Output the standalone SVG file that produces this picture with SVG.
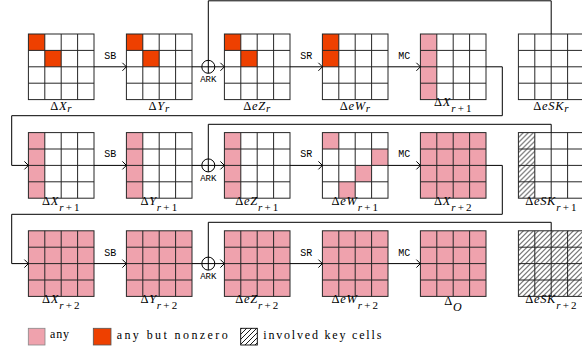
<svg xmlns="http://www.w3.org/2000/svg" xmlns:xlink="http://www.w3.org/1999/xlink" width="582" height="352" viewBox="0 0 582 352">
<style>
.gl{fill:none;stroke:#262626;stroke-width:1}
.p{fill:#EFA2AD}
.o{fill:#EE4000}
.h{fill:url(#hatch)}
.lb{font-family:"Liberation Serif","DejaVu Serif",serif;font-size:12.5px;text-anchor:middle;fill:#000;letter-spacing:0.7px}
.i{font-style:italic}
.s{font-size:11px}
.op{font-family:"Liberation Mono","DejaVu Sans Mono",monospace;font-size:10px;text-anchor:middle;fill:#000}
.ark{font-size:9px}
.cn{fill:none;stroke:#000;stroke-width:1}
.lg{font-family:"Liberation Serif","DejaVu Serif",serif;font-size:12px;fill:#000}
</style>
<defs>
<pattern id="hatch" patternUnits="userSpaceOnUse" width="5" height="5">
<path d="M-1 1L1 -1M0 5L5 0M4 6L6 4" stroke="#000" stroke-width="0.9"/>
</pattern>
<g id="gl" class="gl">
<rect x="0" y="0" width="65.6" height="65.6"/>
<path d="M16.4 0V65.6M32.8 0V65.6M49.2 0V65.6M0 16.4H65.6M0 32.8H65.6M0 49.2H65.6"/>
</g>
<g id="allp"><rect class="p" x="0" y="0" width="65.6" height="65.6"/></g>
<marker id="ch" markerUnits="userSpaceOnUse" markerWidth="10" markerHeight="10" refX="5" refY="5" orient="auto" viewBox="0 0 10 10">
<path d="M1 1L5 5L1 9" fill="none" stroke="#000" stroke-width="1"/>
</marker>
</defs>
<rect width="582" height="352" fill="#fff"/>

<!-- Row 1 -->
<g id="dXr" transform="translate(28.4,34)">
<rect class="o" x="0" y="0" width="16.4" height="16.4"/><rect class="o" x="16.4" y="16.4" width="16.4" height="16.4"/>
<use xlink:href="#gl"/>
<text class="lb" x="32.8" y="75.5">Δ<tspan class="i">X</tspan><tspan class="s i" dy="2.5">r</tspan></text>
</g>
<g id="dYr" transform="translate(126.4,34)">
<rect class="o" x="0" y="0" width="16.4" height="16.4"/><rect class="o" x="16.4" y="16.4" width="16.4" height="16.4"/>
<use xlink:href="#gl"/>
<text class="lb" x="32.8" y="75.5">Δ<tspan class="i">Y</tspan><tspan class="s i" dy="2.5">r</tspan></text>
</g>
<g id="deZr" transform="translate(224.4,34)">
<rect class="o" x="0" y="0" width="16.4" height="16.4"/><rect class="o" x="16.4" y="16.4" width="16.4" height="16.4"/>
<use xlink:href="#gl"/>
<text class="lb" x="32.8" y="75.5">Δ<tspan class="i">eZ</tspan><tspan class="s i" dy="2.5">r</tspan></text>
</g>
<g id="deWr" transform="translate(322.4,34)">
<rect class="o" x="0" y="0" width="16.4" height="32.8"/>
<use xlink:href="#gl"/>
<text class="lb" x="32.8" y="75.5">Δ<tspan class="i">eW</tspan><tspan class="s i" dy="2.5">r</tspan></text>
</g>
<g id="dXr1" transform="translate(420.4,34)">
<rect class="p" x="0" y="0" width="16.4" height="65.6"/>
<use xlink:href="#gl"/>
<text class="lb" x="32.8" y="72">Δ<tspan class="i">X</tspan><tspan class="s" dy="6"><tspan class="i">r</tspan><tspan dx="1.5">+</tspan><tspan dx="1.5">1</tspan></tspan></text>
</g>
<g id="deSKr" transform="translate(518.4,34)">
<use xlink:href="#gl"/>
<text class="lb" x="32.8" y="75.5">Δ<tspan class="i">eSK</tspan><tspan class="s i" dy="2.5">r</tspan></text>
</g>

<!-- Row 2 -->
<g id="dXr1b" transform="translate(28.4,132.6)">
<rect class="p" x="0" y="0" width="16.4" height="65.6"/>
<use xlink:href="#gl"/>
<text class="lb" x="32.8" y="72">Δ<tspan class="i">X</tspan><tspan class="s" dy="6"><tspan class="i">r</tspan><tspan dx="1.5">+</tspan><tspan dx="1.5">1</tspan></tspan></text>
</g>
<g id="dYr1" transform="translate(126.4,132.6)">
<rect class="p" x="0" y="0" width="16.4" height="65.6"/>
<use xlink:href="#gl"/>
<text class="lb" x="32.8" y="72">Δ<tspan class="i">Y</tspan><tspan class="s" dy="6"><tspan class="i">r</tspan><tspan dx="1.5">+</tspan><tspan dx="1.5">1</tspan></tspan></text>
</g>
<g id="deZr1" transform="translate(224.4,132.6)">
<rect class="p" x="0" y="0" width="16.4" height="65.6"/>
<use xlink:href="#gl"/>
<text class="lb" x="32.8" y="72">Δ<tspan class="i">eZ</tspan><tspan class="s" dy="6"><tspan class="i">r</tspan><tspan dx="1.5">+</tspan><tspan dx="1.5">1</tspan></tspan></text>
</g>
<g id="deWr1" transform="translate(322.4,132.6)">
<rect class="p" x="0" y="0" width="16.4" height="16.4"/>
<rect class="p" x="49.2" y="16.4" width="16.4" height="16.4"/>
<rect class="p" x="32.8" y="32.8" width="16.4" height="16.4"/>
<rect class="p" x="16.4" y="49.2" width="16.4" height="16.4"/>
<use xlink:href="#gl"/>
<text class="lb" x="32.8" y="72">Δ<tspan class="i">eW</tspan><tspan class="s" dy="6"><tspan class="i">r</tspan><tspan dx="1.5">+</tspan><tspan dx="1.5">1</tspan></tspan></text>
</g>
<g id="dXr2" transform="translate(420.4,132.6)">
<use xlink:href="#allp"/>
<use xlink:href="#gl"/>
<text class="lb" x="32.8" y="72">Δ<tspan class="i">X</tspan><tspan class="s" dy="6"><tspan class="i">r</tspan><tspan dx="1.5">+</tspan><tspan dx="1.5">2</tspan></tspan></text>
</g>
<g id="deSKr1" transform="translate(518.4,132.6)">
<rect class="h" x="0" y="0" width="16.4" height="65.6"/>
<use xlink:href="#gl"/>
<text class="lb" x="32.8" y="72">Δ<tspan class="i">eSK</tspan><tspan class="s" dy="6"><tspan class="i">r</tspan><tspan dx="1.5">+</tspan><tspan dx="1.5">1</tspan></tspan></text>
</g>

<!-- Row 3 -->
<g id="dXr2b" transform="translate(28.4,230.8)">
<use xlink:href="#allp"/>
<use xlink:href="#gl"/>
<text class="lb" x="32.8" y="72">Δ<tspan class="i">X</tspan><tspan class="s" dy="6"><tspan class="i">r</tspan><tspan dx="1.5">+</tspan><tspan dx="1.5">2</tspan></tspan></text>
</g>
<g id="dYr2" transform="translate(126.4,230.8)">
<use xlink:href="#allp"/>
<use xlink:href="#gl"/>
<text class="lb" x="32.8" y="72">Δ<tspan class="i">Y</tspan><tspan class="s" dy="6"><tspan class="i">r</tspan><tspan dx="1.5">+</tspan><tspan dx="1.5">2</tspan></tspan></text>
</g>
<g id="deZr2" transform="translate(224.4,230.8)">
<use xlink:href="#allp"/>
<use xlink:href="#gl"/>
<text class="lb" x="32.8" y="72">Δ<tspan class="i">eZ</tspan><tspan class="s" dy="6"><tspan class="i">r</tspan><tspan dx="1.5">+</tspan><tspan dx="1.5">2</tspan></tspan></text>
</g>
<g id="deWr2" transform="translate(322.4,230.8)">
<use xlink:href="#allp"/>
<use xlink:href="#gl"/>
<text class="lb" x="32.8" y="72">Δ<tspan class="i">eW</tspan><tspan class="s" dy="6"><tspan class="i">r</tspan><tspan dx="1.5">+</tspan><tspan dx="1.5">2</tspan></tspan></text>
</g>
<g id="dO" transform="translate(420.4,230.8)">
<use xlink:href="#allp"/>
<use xlink:href="#gl"/>
<text class="lb" x="32.8" y="74">Δ<tspan class="i" dy="6" font-size="12px">O</tspan></text>
</g>
<g id="deSKr2" transform="translate(518.4,230.8)">
<rect class="h" x="0" y="0" width="65.6" height="65.6"/>
<use xlink:href="#gl"/>
<text class="lb" x="32.8" y="72">Δ<tspan class="i">eSK</tspan><tspan class="s" dy="6"><tspan class="i">r</tspan><tspan dx="1.5">+</tspan><tspan dx="1.5">2</tspan></tspan></text>
</g>

<!-- Connectors -->
<g id="connectors" class="cn">
<path d="M94 66.8H126.4" marker-end="url(#ch)"/>
<path d="M192 66.8H224.4" marker-end="url(#ch)"/>
<path d="M290 66.8H322.4" marker-end="url(#ch)"/>
<path d="M388 66.8H420.4" marker-end="url(#ch)"/>
<path d="M551.2 34V0.8H208.3V73.3"/>
<circle cx="208.3" cy="66.8" r="6.5"/>
<path d="M486 66.8H502.3V115.7H11.7V165.4H28.4" marker-end="url(#ch)"/>

<path d="M94 165.4H126.4" marker-end="url(#ch)"/>
<path d="M192 165.4H224.4" marker-end="url(#ch)"/>
<path d="M290 165.4H322.4" marker-end="url(#ch)"/>
<path d="M388 165.4H420.4" marker-end="url(#ch)"/>
<path d="M551.2 132.6V124.3H208.3V171.9"/>
<circle cx="208.3" cy="165.4" r="6.5"/>
<path d="M486 165.4H502.3V214.3H11.7V263.6H28.4" marker-end="url(#ch)"/>

<path d="M94 263.6H126.4" marker-end="url(#ch)"/>
<path d="M192 263.6H224.4" marker-end="url(#ch)"/>
<path d="M290 263.6H322.4" marker-end="url(#ch)"/>
<path d="M388 263.6H420.4" marker-end="url(#ch)"/>
<path d="M551.2 230.8V222.3H208.3V270.1"/>
<circle cx="208.3" cy="263.6" r="6.5"/>
</g>

<g id="oplabels">
<text class="op" x="110.2" y="58.8">SB</text>
<text class="op ark" x="208.3" y="82">ARK</text>
<text class="op" x="306.2" y="58.8">SR</text>
<text class="op" x="404.2" y="58.8">MC</text>
<text class="op" x="110.2" y="157.4">SB</text>
<text class="op ark" x="208.3" y="180.6">ARK</text>
<text class="op" x="306.2" y="157.4">SR</text>
<text class="op" x="404.2" y="157.4">MC</text>
<text class="op" x="110.2" y="255.6">SB</text>
<text class="op ark" x="208.3" y="278.8">ARK</text>
<text class="op" x="306.2" y="255.6">SR</text>
<text class="op" x="404.2" y="255.6">MC</text>
</g>

<!-- Legend -->
<g id="legend">
<rect class="p" x="28.3" y="328.3" width="16.7" height="16.7" stroke="#888" stroke-width="0.8"/>
<text class="lg" x="50" y="337.5" textLength="19" lengthAdjust="spacing">any</text>
<rect class="o" x="93.3" y="328.3" width="17.7" height="16.7" stroke="#555" stroke-width="0.8"/>
<text class="lg" x="116.7" y="339" textLength="111" lengthAdjust="spacing">any but nonzero</text>
<rect class="h" x="240.7" y="328.3" width="16.6" height="16.7" stroke="#000" stroke-width="0.9"/>
<text class="lg" x="263.3" y="339" textLength="118" lengthAdjust="spacing">involved key cells</text>
</g>
</svg>
